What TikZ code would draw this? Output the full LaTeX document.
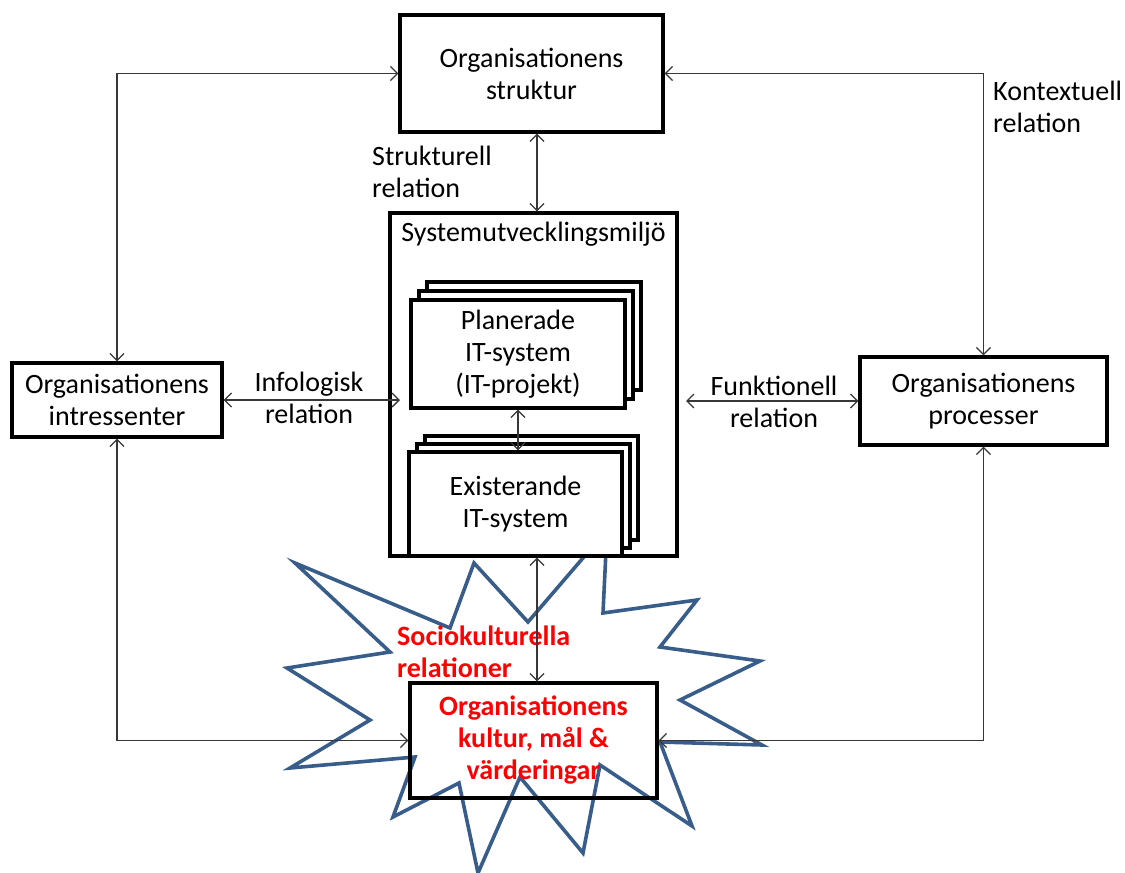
\documentclass[tikz,border=0pt]{standalone}
\usepackage{fontspec}
\setmainfont{Carlito}
\usetikzlibrary{arrows.meta}
\definecolor{starblue}{RGB}{56,93,138}
\definecolor{arr}{RGB}{55,55,55}
\begin{document}
\begin{tikzpicture}[x=1pt,y=-1pt,
  txt/.style={font=\fontsize{28}{32}\selectfont},
  box/.style={draw, line width=3.2pt, fill=white, align=center, inner sep=0pt, txt},
  hollow/.style={draw, line width=3.2pt, align=center, inner sep=0pt, txt},
  lbl/.style={align=left, inner sep=0pt, txt},
  clbl/.style={align=center, inner sep=0pt, txt},
  rel/.style={draw=arr, line width=1.3pt, {Straight Barb[length=7pt,width=14pt]}-{Straight Barb[length=7pt,width=14pt]}},
  star/.style={draw=starblue, line width=3.6pt, line join=miter}
]
\useasboundingbox (0,0) rectangle (1125,873);

% starburst
\draw[star] (295,563) -- (450,628) -- (474,563) -- (528,622) -- (607,530) -- (603,613)
  -- (697,600) -- (660,647) -- (760,661) -- (680,700) -- (762,745) -- (660,742)
  -- (692,826) -- (600,765) -- (583,853) -- (520,777) -- (478,873) -- (459,783)
  -- (393,817) -- (415,757) -- (290,768) -- (370,720) -- (287,668) -- (390,652) -- cycle;

% main boxes
\node[box, minimum width=263pt, minimum height=117pt] (strukt) at (531.5,73.5) {Organisationens\\struktur};
\node[box, minimum width=210pt, minimum height=74pt] (intr) at (117,400) {Organisationens\\intressenter};
\node[box, minimum width=247pt, minimum height=88pt] (proc) at (983.5,401) {Organisationens\\processer};
\node[box, minimum width=287pt, minimum height=343pt] (sys) at (533.5,384.5) {};
\node[clbl, anchor=north] (systitle) at (533.5,222) {Systemutvecklingsmiljö};

% Planerade stack
\node[box, minimum width=214pt, minimum height=108pt] (plan3) at (534,336) {};
\node[box, minimum width=214pt, minimum height=108pt] (plan2) at (526,345) {};
\node[box, minimum width=214pt, minimum height=108pt] (plan) at (518,354) {Planerade\\IT-system\\(IT-projekt)};

% Existerande stack
\node[box, minimum width=213pt, minimum height=104pt] (exist3) at (531.5,488) {};
\node[box, minimum width=213pt, minimum height=104pt] (exist2) at (523.5,496) {};
\node[box, minimum width=213pt, minimum height=104pt] (exist) at (515.5,504) {Existerande\\IT-system};

% kultur box
\node[hollow, minimum width=247pt, minimum height=115pt, text=red, font=\fontsize{28}{32}\selectfont\bfseries] (kultur) at (533.5,740.5) {Organisationens\\kultur, mål \&\\värderingar};

% labels
\node[lbl, anchor=west] (lstrukt) at (372,172) {Strukturell\\relation};
\node[lbl, anchor=west] (lkontext) at (993,107) {Kontextuell\\relation};
\node[clbl] (linfo) at (309,398) {Infologisk\\relation};
\node[clbl] (lfunk) at (774,402) {Funktionell\\relation};
\node[lbl, anchor=west, text=red, font=\fontsize{28}{32}\selectfont\bfseries] (lsocio) at (397,652) {Sociokulturella\\relationer};

% connectors
\coordinate (infoend) at (400,400);
\coordinate (funkend) at (686,401);
\coordinate (ktop) at ([xshift=3.5pt]kultur.north);
\draw[rel] ([xshift=5.5pt]strukt.south) -- ([xshift=3.5pt]sys.north);
\draw[rel] (plan.south) -- (plan.south |- exist.north);
\draw[rel] (sys.south -| ktop) -- (ktop);
\draw[rel] (intr.east) -- (infoend);
\draw[rel] (funkend) -- (proc.west);
\draw[rel] (intr.north) |- (strukt.west);
\draw[rel] (proc.north) |- (strukt.east);
\draw[rel] (intr.south) |- (kultur.west);
\draw[rel] (proc.south) |- (kultur.east);
\end{tikzpicture}
\end{document}
